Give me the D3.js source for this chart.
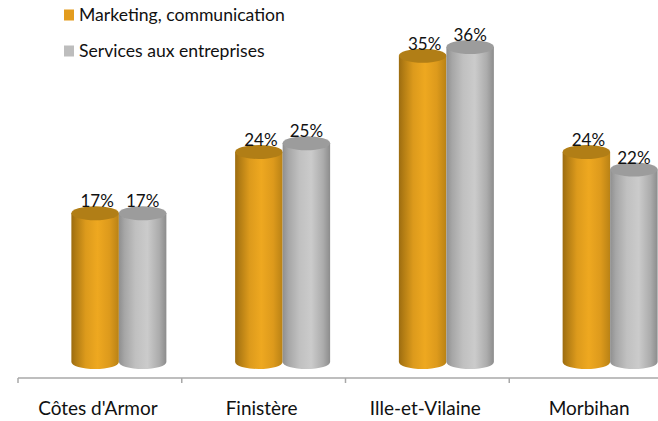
<!DOCTYPE html>
<html>
<head>
<meta charset="utf-8">
<script src="https://cdn.jsdelivr.net/npm/d3@7"></script>
<style>
  html, body { margin: 0; padding: 0; background: #fff; overflow: hidden; }
  text { font-family: Lato, "Open Sans", sans-serif; fill: #111; }
</style>
</head>
<body>
<div id="chart"></div>
<script>
const departements = ["Côtes d'Armor", "Finistère", "Ille-et-Vilaine", "Morbihan"];
const seriesNames = ["Marketing, communication", "Services aux entreprises"];
const marketing = [17, 24, 35, 24];
const services = [17, 25, 36, 22];

const width = 658, height = 421;
const axisY = 378, baseY = 362, barDepth = 19, ry = 7;

const svg = d3.select("#chart").append("svg")
    .attr("width", width)
    .attr("height", height)
    .style("display", "block");

// x scales : one for the departments, one inside each group
const xScale = d3.scaleBand().domain(departements).range([18, 673]);
const xInner = d3.scaleBand().domain(seriesNames).range([xScale.bandwidth() / 2 - 47.5 + barDepth, xScale.bandwidth() / 2 + 47.5 + barDepth]);
const yScale = d3.scaleLinear().domain([0, 36]).range([baseY, 47]);

// gradients for the cylinders
const defs = svg.append("defs");
function addGradient(id, stops) {
    const g = defs.append("linearGradient").attr("id", id);
    stops.forEach(s => g.append("stop").attr("offset", s[0]).attr("stop-color", s[1]));
}
addGradient("grad0", [[0, "#9c6c10"], [0.1, "#b37d14"], [0.3, "#dc9a1c"], [0.55, "#eea820"], [0.8, "#dd9a1c"], [1, "#b98215"]]);
addGradient("grad1", [[0, "#8f8f8f"], [0.12, "#a6a6a6"], [0.35, "#c0c0c0"], [0.6, "#cbcbcb"], [0.85, "#acacac"], [1, "#8c8c8c"]]);
const topColors = ["#b17e16", "#9c9c9c"];
const legendColors = ["#e39c1e", "#bdbdbd"];

const rows = [];
seriesNames.forEach((name, s) => {
    const values = s === 0 ? marketing : services;
    departements.forEach((dep, i) => rows.push({dep: dep, name: name, s: s, value: values[i]}));
});

// cylinders
const bars = svg.append("g").selectAll("g")
    .data(rows)
    .enter()
    .append("g");

function cylinder(d) {
    const x0 = xScale(d.dep) + xInner(d.name);
    const w = xInner.bandwidth();
    const top = yScale(d.value);
    return `M${x0},${top} L${x0},${baseY} A${w / 2},${ry} 0 0 0 ${x0 + w},${baseY} L${x0 + w},${top} Z`;
}

bars.append("path")
    .attr("d", cylinder)
    .attr("fill", d => `url(#grad${d.s})`);

bars.append("ellipse")
    .attr("cx", d => xScale(d.dep) + xInner(d.name) + xInner.bandwidth() / 2)
    .attr("cy", d => yScale(d.value))
    .attr("rx", xInner.bandwidth() / 2)
    .attr("ry", ry)
    .attr("fill", d => topColors[d.s]);

// value labels
svg.append("g").selectAll("text")
    .data(rows)
    .enter()
    .append("text")
    .attr("x", d => xScale(d.dep) + xInner(d.name) + xInner.bandwidth() / 2 + (d.s === 0 ? 2 : 0))
    .attr("y", d => yScale(d.value) - 6)
    .attr("text-anchor", "middle")
    .attr("font-size", 17)
    .text(d => d.value + "%");

// x axis
const xAxis = d3.axisBottom(xScale).tickSize(0).tickPadding(24);
const xAxisGroup = svg.append("g")
    .attr("class", "x-axis")
    .attr("transform", `translate(0, ${axisY})`)
    .call(xAxis);
xAxisGroup.select(".domain").remove();
xAxisGroup.selectAll("text")
    .attr("font-size", 19)
    .attr("dx", -2)
    .style("fill", "#111");

const tickValues = departements.map(d => xScale(d)).concat([xScale.range()[1]]);
const axisLine = svg.append("g").attr("stroke", "#a8a8a8").attr("stroke-width", 1.5);
axisLine.append("line").attr("x1", 18).attr("x2", width).attr("y1", axisY).attr("y2", axisY);
axisLine.selectAll(".tick-mark")
    .data(tickValues)
    .enter()
    .append("line")
    .attr("class", "tick-mark")
    .attr("x1", d => d).attr("x2", d => d)
    .attr("y1", axisY).attr("y2", axisY + 5);

// legend
const legendY = d3.scalePoint().domain(seriesNames).range([15, 51]);
const legend = svg.append("g").selectAll("g")
    .data(seriesNames)
    .enter()
    .append("g")
    .attr("transform", d => `translate(64, ${legendY(d)})`);
legend.append("rect")
    .attr("y", -5.5)
    .attr("width", 10)
    .attr("height", 11)
    .attr("fill", (d, i) => legendColors[i]);
legend.append("text")
    .attr("x", 15)
    .attr("y", 6)
    .attr("font-size", 17.6)
    .text(d => d);
</script>
</body>
</html>
